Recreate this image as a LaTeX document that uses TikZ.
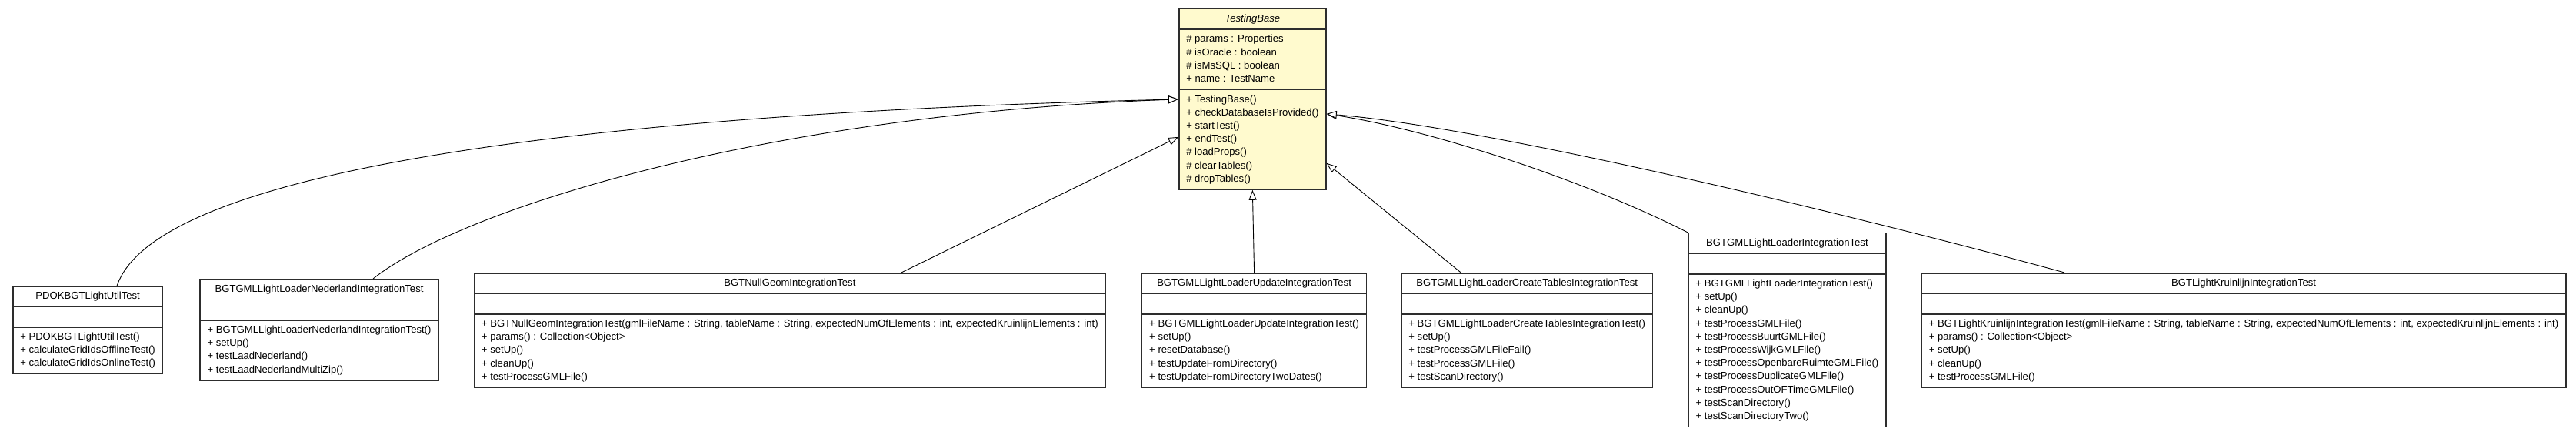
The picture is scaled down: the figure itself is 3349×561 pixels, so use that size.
\documentclass[tikz,border=0pt]{standalone}
\usepackage{fontspec}
\setmainfont{Liberation Sans}
\usepackage{xcolor}
\usetikzlibrary{positioning, arrows.meta, shapes.multipart}
\definecolor{baseyellow}{RGB}{255,250,206}
\definecolor{boxline}{RGB}{45,45,45}
\newcommand{\members}[1]{\begin{tabular}{@{}l@{}}#1\end{tabular}}
\tikzstyle{umlclass} = [rectangle split, rectangle split parts=3, rectangle split part align={center,left,left}, draw=boxline, line width=1.5pt, fill=white, inner xsep=9.5pt, inner ysep=3.9pt, font=\fontsize{13.1}{17.2}\selectfont, anchor=north west]
\tikzstyle{inherit} = [line width=0.9pt, -{Triangle[length=13pt, width=10pt, fill=white]}]

\begin{document}
\begin{tikzpicture}[x=1pt, y=1pt]
        \fill [white] (0,0) rectangle (3349,-561);
        \useasboundingbox (0,0) rectangle (3349,-561);

        % Nodes
        \node (base) [umlclass, fill=baseyellow] at (1532,-11) {\strut\textit{TestingBase}
            \nodepart{two} \members{\# params : Properties\\ \# isOracle : boolean\\ \# isMsSQL : boolean\\ + name : TestName}
            \nodepart{three} \members{+ TestingBase()\\ + checkDatabaseIsProvided()\\ + startTest()\\ + endTest()\\ \# loadProps()\\ \# clearTables()\\ \# dropTables()}};
        \node (pdok) [umlclass] at (16,-371) {\strut PDOKBGTLightUtilTest
            \nodepart{two} \strut
            \nodepart{three} \members{+ PDOKBGTLightUtilTest()\\ + calculateGridIdsOfflineTest()\\ + calculateGridIdsOnlineTest()}};
        \node (ned) [umlclass, right=47pt of pdok.north east, anchor=north west, yshift=9pt] {\strut BGTGMLLightLoaderNederlandIntegrationTest
            \nodepart{two} \strut
            \nodepart{three} \members{+ BGTGMLLightLoaderNederlandIntegrationTest()\\ + setUp()\\ + testLaadNederland()\\ + testLaadNederlandMultiZip()}};
        \node (nullgeom) [umlclass, right=45pt of ned.north east, anchor=north west, yshift=8pt] {\strut BGTNullGeomIntegrationTest
            \nodepart{two} \strut
            \nodepart{three} \members{+ BGTNullGeomIntegrationTest(gmlFileName : String, tableName : String, expectedNumOfElements : int, expectedKruinlijnElements : int)\\ + params() : Collection<Object>\\ + setUp()\\ + cleanUp()\\ + testProcessGMLFile()}};
        \node (update) [umlclass, right=46pt of nullgeom.north east, anchor=north west] {\strut BGTGMLLightLoaderUpdateIntegrationTest
            \nodepart{two} \strut
            \nodepart{three} \members{+ BGTGMLLightLoaderUpdateIntegrationTest()\\ + setUp()\\ + resetDatabase()\\ + testUpdateFromDirectory()\\ + testUpdateFromDirectoryTwoDates()}};
        \node (create) [umlclass, right=44pt of update.north east, anchor=north west] {\strut BGTGMLLightLoaderCreateTablesIntegrationTest
            \nodepart{two} \strut
            \nodepart{three} \members{+ BGTGMLLightLoaderCreateTablesIntegrationTest()\\ + setUp()\\ + testProcessGMLFileFail()\\ + testProcessGMLFile()\\ + testScanDirectory()}};
        \node (loader) [umlclass, right=45pt of create.north east, anchor=north west, yshift=52pt] {\strut BGTGMLLightLoaderIntegrationTest
            \nodepart{two} \strut
            \nodepart{three} \members{+ BGTGMLLightLoaderIntegrationTest()\\ + setUp()\\ + cleanUp()\\ + testProcessGMLFile()\\ + testProcessBuurtGMLFile()\\ + testProcessWijkGMLFile()\\ + testProcessOpenbareRuimteGMLFile()\\ + testProcessDuplicateGMLFile()\\ + testProcessOutOFTimeGMLFile()\\ + testScanDirectory()\\ + testScanDirectoryTwo()}};
        \node (kruinlijn) [umlclass, right=45pt of loader.north east, anchor=north west, yshift=-52pt] {\strut BGTLightKruinlijnIntegrationTest
            \nodepart{two} \strut
            \nodepart{three} \members{+ BGTLightKruinlijnIntegrationTest(gmlFileName : String, tableName : String, expectedNumOfElements : int, expectedKruinlijnElements : int)\\ + params() : Collection<Object>\\ + setUp()\\ + cleanUp()\\ + testProcessGMLFile()}};

        % Arrows
        \draw [inherit] ([xshift=38pt]pdok.north) .. controls +(48,141) and +(-832,-20) .. (base.west);
        \draw [inherit] ([xshift=70pt]ned.north) .. controls +(116,92) and +(-532,-19) .. (base.west);
        \draw [inherit] ([xshift=145pt]nullgeom.north) -- ([yshift=-49pt]base.west);
        \draw [inherit] (update.north) -- (base.south);
        \draw [inherit] ([xshift=-86pt]create.north) -- ([yshift=-83pt]base.east);
        \draw [inherit] (loader.north west) .. controls +(-142,72) and +(126,-19) .. ([yshift=-19pt]base.east);
        \draw [inherit] ([xshift=-233pt]kruinlijn.north) .. controls +(-230,63) and +(226,-19) .. ([yshift=-19pt]base.east);
    \end{tikzpicture}
\end{document}
